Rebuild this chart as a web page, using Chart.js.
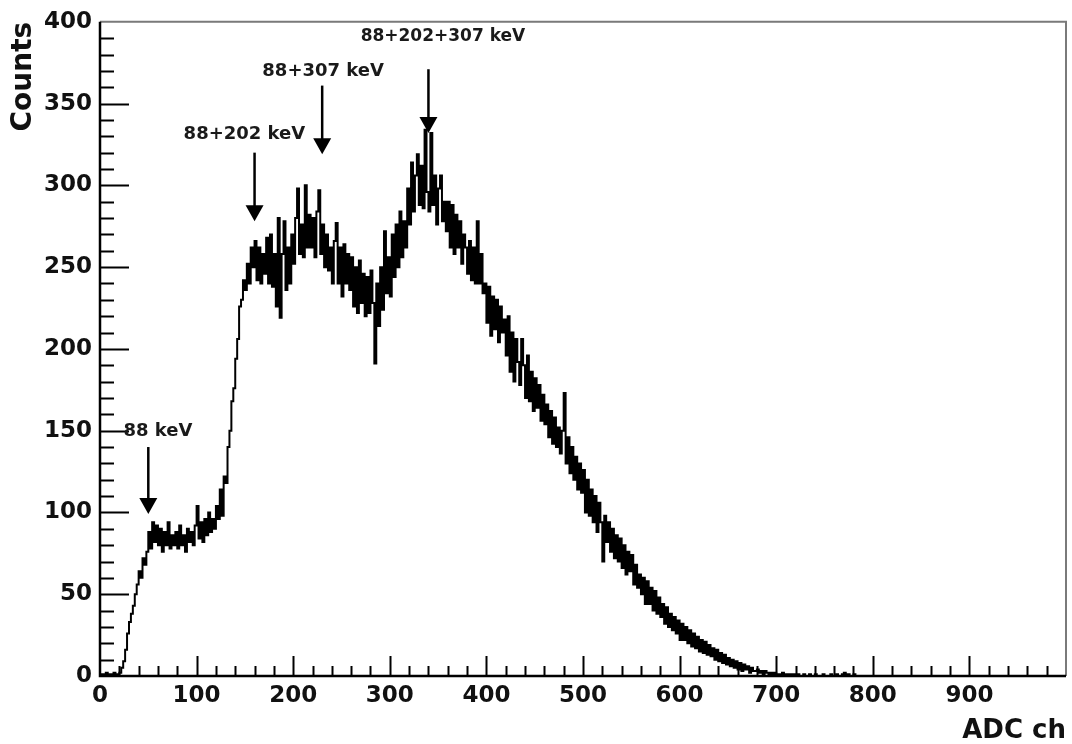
<!DOCTYPE html>
<html>
<head>
<meta charset="utf-8">
<script src="https://cdn.jsdelivr.net/npm/chart.js@4.4.1/dist/chart.umd.min.js"></script>
<style>
  html, body { margin: 0; padding: 0; background: #fff; }
  #wrap { width: 1072px; height: 744px; }
</style>
</head>
<body>
<div id="wrap"><canvas id="c" width="1072" height="744"></canvas></div>
<script>
// Histogram: bin width 2 ADC channels, starting at channel 0
const binStart = 0;
const binWidth = 2;
const counts = [
  0,1,0,1,2,1,0,1,2,1,
  1,2,5,9,16,26,33,38,43,50,
  56,64,60,72,68,76,88,78,94,82,
  92,80,90,76,88,80,94,78,86,80,
  88,78,92,80,86,76,90,82,88,80,
  92,104,84,94,82,96,86,100,88,96,
  90,104,96,114,98,122,118,140,150,168,
  176,194,206,226,230,242,236,252,240,262,
  250,266,242,262,240,258,246,268,240,270,
  238,258,226,280,219,258,278,236,262,240,
  270,252,280,298,258,276,256,300,262,282,
  262,280,256,284,297,258,276,250,270,248,
  262,240,266,277,240,262,232,264,240,258,
  236,256,226,250,222,254,228,246,220,244,
  222,248,228,191,240,214,250,224,272,234,
  256,232,270,244,276,250,284,256,278,262,
  298,276,314,284,306,319,288,312,286,334,
  296,284,332,288,306,276,298,306,278,290,
  272,290,262,288,258,282,262,278,252,270,
  262,246,266,242,262,240,278,240,258,234,
  240,216,238,208,232,212,230,204,226,210,
  218,196,220,186,210,180,206,192,178,206,
  190,170,196,168,186,162,182,164,178,156,
  172,154,166,146,162,142,158,140,152,136,
  150,173,130,146,124,140,120,134,114,130,
  112,126,100,120,98,114,94,110,88,106,
  94,70,98,82,94,76,90,72,86,70,
  84,66,80,62,76,64,74,56,68,54,
  62,50,60,44,58,44,54,40,52,38,
  48,36,44,32,42,30,38,28,36,26,
  34,22,32,22,30,20,28,18,26,17,
  24,15,22,14,21,13,19,12,17,10,
  16,9,14,8,13,7,11,6,10,5,
  9,4,8,3,7,4,6,2,5,3,
  3,4,2,3,1,3,2,1,2,1,
  2,1,1,0,2,1,0,1,1,0,
  1,0,1,0,0,1,0,0,1,0,
  0,1,0,0,0,1,0,0,0,1,
  0,0,1,0,0,1,2,0,1,0,
  0,1,0,0,0,0,0,0,0,0
];

// Axis ranges and tick labels
const xMin = 0, xMax = 1000, xMajor = 100, xMinor = 20;
const yMin = 0, yMax = 400, yMajor = 50, yMinor = 10;
const xTickLabels = ['0','100','200','300','400','500','600','700','800','900'];
const xTitle = 'ADC ch';
const yTitle = 'Counts';

// Peak annotations (data coordinates: channel, counts)
const peakLabels = ['88 keV', '88+202 keV', '88+307 keV', '88+202+307 keV'];
const arrowX     = [50, 160, 230, 340];
const arrowTip   = [99, 278, 319, 332];
const arrowTail  = [140, 320, 361, 371];
const labelX     = [60, 149.5, 231, 355];
const labelY     = [149.6, 331, 370, 391];

const points = counts.map((v, i) => ({ x: binStart + i * binWidth, y: v }));
points.push({ x: binStart + counts.length * binWidth, y: counts[counts.length - 1] });

const FONT = '"DejaVu Sans", "Liberation Sans", Arial, sans-serif';

const rootStyle = {
  id: 'rootStyle',
  afterDraw(chart) {
    const ctx = chart.ctx;
    const xs = chart.scales.x, ys = chart.scales.y;
    const a = chart.chartArea;
    ctx.save();
    // frame: top/right grey, left/bottom black
    ctx.lineWidth = 2;
    ctx.strokeStyle = '#7a7a7a';
    ctx.beginPath();
    ctx.moveTo(a.left, a.top); ctx.lineTo(a.right, a.top); ctx.lineTo(a.right, a.bottom);
    ctx.stroke();
    ctx.strokeStyle = '#000';
    ctx.lineWidth = 2.5;
    ctx.beginPath();
    ctx.moveTo(a.left, a.top); ctx.lineTo(a.left, a.bottom); ctx.lineTo(a.right, a.bottom);
    ctx.stroke();
    // inner ticks
    ctx.lineWidth = 2;
    ctx.beginPath();
    for (let v = xMin; v < xMax; v += xMinor) {
      if (v === xMin) continue;
      const px = Math.round(xs.getPixelForValue(v)) + 0.5;
      const len = (v % xMajor === 0) ? 20 : 10;
      ctx.moveTo(px, a.bottom); ctx.lineTo(px, a.bottom - len);
    }
    for (let v = yMin; v < yMax; v += yMinor) {
      if (v === yMin) continue;
      const py = Math.round(ys.getPixelForValue(v)) + 0.5;
      const len = (v % yMajor === 0) ? 29 : 14;
      ctx.moveTo(a.left, py); ctx.lineTo(a.left + len, py);
    }
    ctx.stroke();
    // annotations
    ctx.strokeStyle = '#000';
    ctx.textAlign = 'center';
    ctx.textBaseline = 'middle';
    for (let i = 0; i < peakLabels.length; i++) {
      ctx.fillStyle = '#1a1a1a';
      ctx.font = (i === 3 ? 'bold 17px ' : 'bold 18px ') + FONT;
      ctx.fillText(peakLabels[i], xs.getPixelForValue(labelX[i]), ys.getPixelForValue(labelY[i]));
      const ax = xs.getPixelForValue(arrowX[i]);
      const tip = ys.getPixelForValue(arrowTip[i]);
      const tail = ys.getPixelForValue(arrowTail[i]);
      ctx.lineWidth = 2.5;
      ctx.beginPath();
      ctx.moveTo(ax, tail); ctx.lineTo(ax, tip - 10);
      ctx.stroke();
      ctx.fillStyle = '#000';
      ctx.beginPath();
      ctx.moveTo(ax - 9, tip - 16); ctx.lineTo(ax + 9, tip - 16); ctx.lineTo(ax, tip);
      ctx.closePath();
      ctx.fill();
    }
    ctx.restore();
  }
};

new Chart(document.getElementById('c'), {
  type: 'line',
  data: {
    datasets: [{
      data: points,
      stepped: 'after',
      borderColor: '#000',
      borderWidth: 2,
      pointRadius: 0,
      fill: false
    }]
  },
  options: {
    responsive: false,
    animation: false,
    events: [],
    layout: { padding: { top: 21, right: 3, left: 0, bottom: 0 } },
    plugins: { legend: { display: false }, tooltip: { enabled: false } },
    scales: {
      x: {
        type: 'linear',
        min: xMin, max: xMax,
        afterFit(s) { s.height = 68; },
        grid: { display: true, drawOnChartArea: false, drawTicks: false },
        border: { display: false },
        ticks: {
          stepSize: xMajor,
          autoSkip: false,
          maxRotation: 0,
          padding: 6,
          color: '#111',
          font: { family: FONT, size: 23, weight: 'bold' },
          callback: (v) => { const i = Math.round(v / xMajor); return i < xTickLabels.length ? xTickLabels[i] : ''; }
        },
        title: {
          display: true, text: xTitle, align: 'end', color: '#111',
          font: { family: FONT, size: 26, weight: 'bold', lineHeight: 1 },
          padding: { top: 0, bottom: 0 }
        }
      },
      y: {
        min: yMin, max: yMax,
        afterFit(s) { s.width = 100; },
        grid: { display: true, drawOnChartArea: false, drawTicks: false },
        border: { display: false },
        ticks: {
          stepSize: yMajor,
          padding: 8,
          color: '#111',
          font: { family: FONT, size: 23, weight: 'bold' }
        },
        title: {
          display: true, text: yTitle, align: 'end', color: '#111',
          font: { family: FONT, size: 28, weight: 'bold', lineHeight: 1 },
          padding: { top: 10, bottom: 0 }
        }
      }
    }
  },
  plugins: [rootStyle]
});
</script>
</body>
</html>
